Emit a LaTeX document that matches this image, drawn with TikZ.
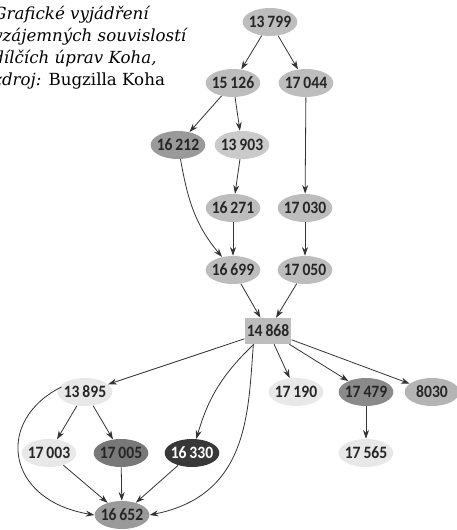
\documentclass[tikz,border=0pt]{standalone}
\usepackage{fontspec}
\setmainfont{DejaVu Serif}
\newfontfamily\numfont{Carlito}[FakeStretch=0.9]
\usetikzlibrary{shapes.geometric,arrows.meta}
\definecolor{bugmid}{HTML}{BDBDBD}
\definecolor{buglite}{HTML}{E8E8E8}
\definecolor{bugpale}{HTML}{CACACA}
\definecolor{bugdim}{HTML}{9A9A9A}
\definecolor{bugdark}{HTML}{8A8A8A}
\definecolor{bugdeep}{HTML}{787878}
\definecolor{bugblack}{HTML}{383838}

\begin{document}
\begin{tikzpicture}[x=0.75pt,y=-0.75pt,
		bug/.style={ellipse,fill=bugmid,minimum width=41pt,minimum height=21pt,inner xsep=-3pt,inner ysep=0pt,font=\numfont\bfseries\fontsize{13}{13}\selectfont,text=black!85},
		dep/.style={-{Stealth[length=6.5pt,width=4.5pt]},draw=black!80,line width=0.6pt}]
		\useasboundingbox (0,0) rectangle (456,530);
		\begin{scope}
		\clip (0,0) rectangle (456,530);
		\node[anchor=north west,align=left,inner sep=0pt,font=\fontsize{12.5}{16.5}\selectfont] (caption) at (-7,6)
			{\textit{Grafické vyjádření}\\ \textit{vzájemných souvislostí}\\ \textit{dílčích úprav Koha,}\\ \textit{zdroj:} Bugzilla Koha};
		\end{scope}

		\node[bug] (b13799) at (270,22) {13\,799};
		\node[bug] (b15126) at (233,83) {15\,126};
		\node[bug] (b17044) at (306,83) {17\,044};
		\node[bug,fill=bugdim] (b16212) at (178,145) {16\,212};
		\node[bug,fill=bugpale] (b13903) at (242,145) {13\,903};
		\node[bug] (b16271) at (233,208) {16\,271};
		\node[bug] (b17030) at (305,208) {17\,030};
		\node[bug] (b16699) at (233,270) {16\,699};
		\node[bug] (b17050) at (305,270) {17\,050};
		\node[rectangle,fill=bugmid,minimum width=35pt,minimum height=19.5pt,inner sep=0pt,font=\numfont\bfseries\fontsize{13}{13}\selectfont,text=black!85] (b14868) at (268,331) {14\,868};
		\node[bug,fill=buglite] (b13895) at (85,392) {13\,895};
		\node[bug,fill=buglite] (b17190) at (296,392) {17\,190};
		\node[bug,fill=bugdark] (b17479) at (366,392) {17\,479};
		\node[bug,fill=bugmid!95!black] (b8030) at (432,392) {8030};
		\node[bug,fill=buglite] (b17003) at (49,453) {17\,003};
		\node[bug,fill=bugdeep] (b17005) at (121,453) {17\,005};
		\node[bug,fill=bugblack,text=white] (b16330) at (192,453) {16\,330};
		\node[bug,fill=buglite] (b17565) at (366,453) {17\,565};
		\node[bug,fill=bugdim] (b16652) at (122,515) {16\,652};

		\draw[dep] (b13799) -- (b15126);
		\draw[dep] (b13799) -- (b17044);
		\draw[dep] (b15126) -- (b16212);
		\draw[dep] (b15126) -- (b13903);
		\draw[dep] (b17044) -- (b17030);
		\draw[dep] (b13903) -- (b16271);
		\draw[dep] (b16212) to[out=-80,in=130] (b16699);
		\draw[dep] (b16271) -- (b16699);
		\draw[dep] (b17030) -- (b17050);
		\draw[dep] (b16699) -- (b14868);
		\draw[dep] (b17050) -- (b14868);
		\draw[dep] (b14868) -- (b13895);
		\draw[dep] (b14868) to[bend right=15] (b16330);
		\draw[dep] (b14868.south west) ++(9,0) .. controls (248,410) and (250,495) .. (b16652.east);
		\draw[dep] (b14868) -- (b17190);
		\draw[dep] (b14868) -- (b17479);
		\draw[dep] (b14868) -- (b8030);
		\draw[dep] (b13895) -- (b17003);
		\draw[dep] (b13895) -- (b17005);
		\draw[dep] (b13895.west) ++(4,-5) .. controls (-5,420) and (5,500) .. (b16652.west);
		\draw[dep] (b17003) -- (b16652);
		\draw[dep] (b17005) -- (b16652);
		\draw[dep] (b16330) -- (b16652);
		\draw[dep] (b17479) -- (b17565);
\end{tikzpicture}
\end{document}
